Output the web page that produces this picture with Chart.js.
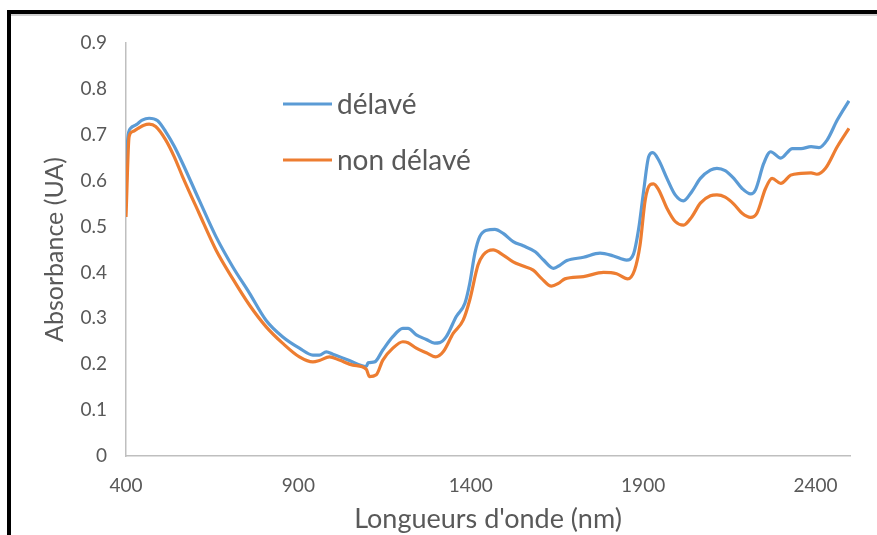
<!DOCTYPE html>
<html>
<head>
<meta charset="utf-8">
<script src="https://cdn.jsdelivr.net/npm/chart.js@4/dist/chart.umd.min.js"></script>
<style>
  body { margin: 0; background: #fff; }
  #wrap { position: relative; width: 877px; height: 535px; overflow: hidden; }
  #frame {
    position: absolute; left: 7px; top: 10px; width: 900px; height: 560px;
    border-top: 4px solid #000; border-left: 4px solid #000;
    box-shadow: inset 0 2px 0 #d0d0d0;
    pointer-events: none;
  }
</style>
</head>
<body>
<div id="wrap">
  <canvas id="spectre" width="877" height="535"></canvas>
  <div id="frame"></div>
</div>
<script>
// longueurs d'onde (nm) et absorbance
const wlDelave = [400, 405, 413, 430, 447, 467, 491, 515, 540, 564, 612, 661, 709, 758, 806, 854, 903, 942, 961, 981, 1000, 1048, 1097, 1102, 1121, 1145, 1174, 1203, 1218, 1242, 1271, 1295, 1310, 1329, 1358, 1383, 1397, 1412, 1426, 1446, 1470, 1494, 1523, 1552, 1587, 1611, 1640, 1659, 1679, 1727, 1775, 1814, 1852, 1872, 1887, 1901, 1916, 1928, 1945, 1969, 1993, 2017, 2041, 2066, 2095, 2114, 2138, 2163, 2187, 2212, 2226, 2250, 2270, 2299, 2333, 2358, 2387, 2410, 2434, 2463, 2497];
const absDelave = [0.56, 0.69, 0.714, 0.722, 0.732, 0.736, 0.731, 0.707, 0.675, 0.638, 0.558, 0.478, 0.413, 0.355, 0.296, 0.260, 0.235, 0.220, 0.220, 0.227, 0.222, 0.208, 0.195, 0.203, 0.205, 0.231, 0.260, 0.278, 0.278, 0.264, 0.254, 0.246, 0.247, 0.260, 0.304, 0.333, 0.376, 0.442, 0.478, 0.492, 0.494, 0.485, 0.467, 0.458, 0.445, 0.427, 0.409, 0.416, 0.426, 0.433, 0.442, 0.436, 0.427, 0.440, 0.495, 0.575, 0.652, 0.661, 0.645, 0.605, 0.569, 0.556, 0.576, 0.605, 0.623, 0.627, 0.622, 0.605, 0.583, 0.571, 0.580, 0.638, 0.663, 0.649, 0.670, 0.670, 0.674, 0.672, 0.689, 0.732, 0.774];

const wlNonDelave = [400, 409, 419, 435, 452, 467, 486, 515, 540, 564, 612, 661, 709, 758, 806, 854, 903, 942, 961, 990, 1019, 1058, 1097, 1106, 1126, 1145, 1174, 1203, 1218, 1242, 1271, 1298, 1320, 1349, 1378, 1397, 1421, 1436, 1465, 1494, 1523, 1552, 1581, 1605, 1634, 1654, 1673, 1727, 1785, 1823, 1855, 1875, 1891, 1906, 1920, 1930, 1945, 1969, 1993, 2017, 2041, 2066, 2095, 2114, 2138, 2163, 2187, 2212, 2230, 2255, 2274, 2299, 2328, 2358, 2387, 2404, 2429, 2463, 2497];
const absNonDelave = [0.521, 0.696, 0.707, 0.714, 0.721, 0.723, 0.718, 0.689, 0.652, 0.609, 0.529, 0.449, 0.387, 0.329, 0.282, 0.246, 0.216, 0.205, 0.208, 0.216, 0.209, 0.198, 0.189, 0.173, 0.177, 0.209, 0.235, 0.249, 0.247, 0.235, 0.225, 0.216, 0.227, 0.267, 0.296, 0.340, 0.416, 0.438, 0.449, 0.438, 0.423, 0.414, 0.405, 0.387, 0.370, 0.376, 0.386, 0.391, 0.400, 0.397, 0.386, 0.405, 0.460, 0.558, 0.591, 0.593, 0.580, 0.540, 0.511, 0.503, 0.521, 0.551, 0.567, 0.569, 0.564, 0.549, 0.529, 0.520, 0.529, 0.583, 0.605, 0.594, 0.612, 0.616, 0.617, 0.614, 0.627, 0.674, 0.714];

const xTicks = [400, 900, 1400, 1900, 2400];
const seriesNames = ["délavé", "non délavé"];

const FONT = "Lato, 'Open Sans', sans-serif";
const GREY = "#595959";

function toPoints(xs, ys) {
    return xs.map((x, i) => ({ x: x, y: ys[i] }));
}

// legende dessinee dans la zone du graphique, comme dans Excel
const insideLegend = {
    id: "insideLegend",
    afterDraw(chart) {
        const ctx = chart.ctx;
        const rows = [104, 160];
        ctx.save();
        chart.data.datasets.forEach((ds, i) => {
            ctx.strokeStyle = ds.borderColor;
            ctx.lineWidth = 3;
            ctx.beginPath();
            ctx.moveTo(283, rows[i]);
            ctx.lineTo(332, rows[i]);
            ctx.stroke();
            ctx.fillStyle = GREY;
            ctx.font = "28px " + FONT;
            ctx.textBaseline = "middle";
            ctx.fillText(ds.label, 337, rows[i] + 1);
        });
        ctx.restore();
    }
};

new Chart(document.getElementById("spectre").getContext("2d"), {
    type: "line",
    data: {
        datasets: [
            { label: seriesNames[0], data: toPoints(wlDelave, absDelave), borderColor: "#5B9BD5", borderWidth: 3.2, pointRadius: 0, cubicInterpolationMode: "monotone", order: 2 },
            { label: seriesNames[1], data: toPoints(wlNonDelave, absNonDelave), borderColor: "#ED7D31", borderWidth: 3.2, pointRadius: 0, cubicInterpolationMode: "monotone", order: 1 }
        ]
    },
    options: {
        responsive: false,
        animation: false,
        layout: { padding: { left: 0, top: 43, right: 27, bottom: 0 } },
        plugins: { legend: { display: false }, tooltip: { enabled: false } },
        scales: {
            x: {
                type: "linear",
                min: 400,
                max: 2500,
                afterFit: s => { s.height = 79; },
                afterBuildTicks: s => { s.ticks = xTicks.map(v => ({ value: v })); },
                grid: { display: false, drawTicks: false },
                border: { display: true, color: "#BFBFBF", width: 1.5 },
                ticks: { color: GREY, font: { family: FONT, size: 19 }, padding: 18, maxRotation: 0, autoSkip: false, callback: v => String(v) },
                title: { display: true, text: "Longueurs d'onde (nm)", color: GREY, font: { family: FONT, size: 27 }, padding: { top: 0, bottom: 0 } }
            },
            y: {
                min: 0,
                max: 0.9,
                afterFit: s => { s.width = 126; },
                grid: { display: false, drawTicks: false },
                border: { display: true, color: "#BFBFBF", width: 1.5 },
                ticks: { stepSize: 0.1, color: GREY, font: { family: FONT, size: 19 }, padding: 19 },
                title: { display: true, text: "Absorbance (UA)", color: GREY, font: { family: FONT, size: 25 }, padding: { top: 40, bottom: 0 } }
            }
        }
    },
    plugins: [insideLegend]
});
</script>
</body>
</html>
